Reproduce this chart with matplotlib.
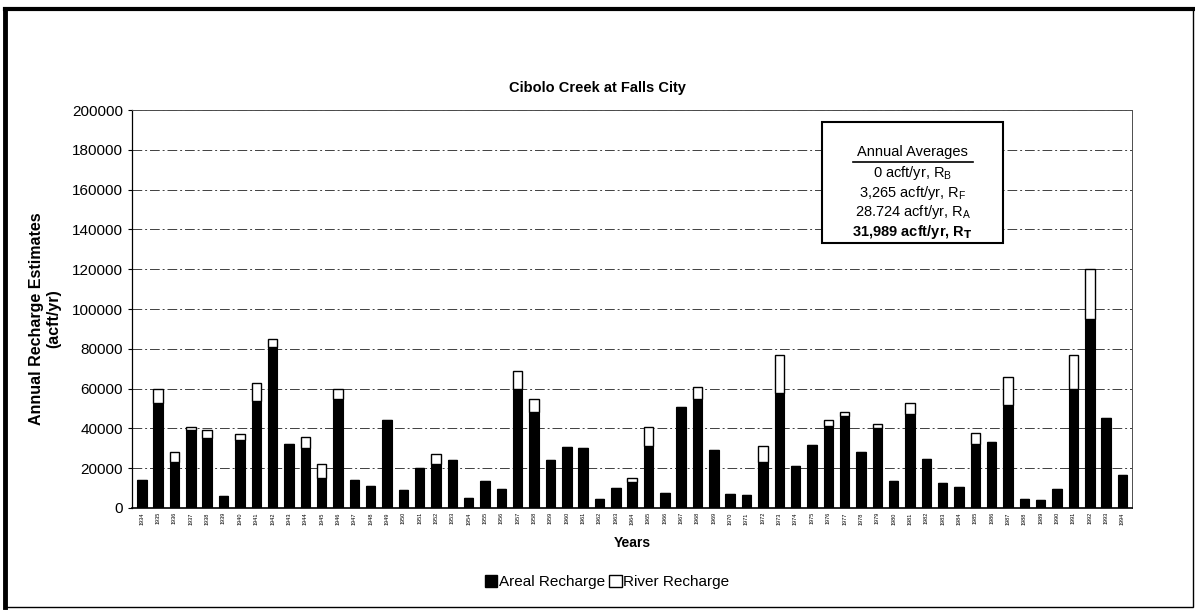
import matplotlib
matplotlib.use("Agg")
import matplotlib.pyplot as plt
import numpy as np
from matplotlib.patches import Rectangle, Patch
from matplotlib.lines import Line2D

plt.rcParams['font.family'] = ['Liberation Sans', 'DejaVu Sans']
plt.rcParams['mathtext.fontset'] = 'custom'
plt.rcParams['mathtext.rm'] = 'Liberation Sans'

# annual recharge (acft/yr)
years = list(range(1934, 1995))
areal = [14000, 53000, 23000, 39000, 35000, 6000, 34000, 54000, 81000, 32000,
         30000, 15000, 55000, 14000, 11000, 44000, 9000, 20000, 22000, 24000,
         5000, 13500, 9500, 60000, 48000, 24000, 30500, 30000, 4500, 10000,
         13000, 31000, 7500, 51000, 55000, 29000, 7000, 6500, 23000, 58000,
         21000, 31500, 41000, 46000, 28000, 40000, 13500, 47000, 24500, 12500,
         10500, 32000, 33000, 52000, 4500, 4000, 9500, 60000, 95000, 45000,
         16500]
river = [0, 7000, 5000, 1500, 4000, 0, 3000, 9000, 4000, 0,
         5500, 7000, 5000, 0, 0, 0, 0, 0, 5000, 0,
         0, 0, 0, 9000, 7000, 0, 0, 0, 0, 0,
         2000, 9500, 0, 0, 6000, 0, 0, 0, 8000, 19000,
         0, 0, 3000, 2000, 0, 2000, 0, 6000, 0, 0,
         0, 5500, 0, 14000, 0, 0, 0, 17000, 25000, 0,
         0]

avg_lines = [r"0 acft/yr, R$_\mathregular{B}$",
             r"3,265 acft/yr, R$_\mathregular{F}$",
             r"28.724 acft/yr, R$_\mathregular{A}$",
             r"31,989 acft/yr, R$_\mathbf{T}$"]

fig = plt.figure(figsize=(11.95, 6.12), dpi=100)
ax = fig.add_axes([0.1105, 0.170, 0.837, 0.650])

x = np.arange(len(years))
ax.bar(x, areal, width=0.58, color='black', edgecolor='black', linewidth=0.8, zorder=3)
ax.bar(x, river, width=0.58, bottom=areal, color='white', edgecolor='black',
       linewidth=1.0, zorder=3)

ax.set_ylim(0, 200000)
ax.set_xlim(-0.6, len(years) - 0.4)
ax.set_yticks(np.arange(0, 200001, 20000))
ax.tick_params(axis='y', labelsize=11, length=3)
ax.set_xticks(x)
ax.set_xticklabels([str(y) for y in years], rotation=90, fontsize=4)
ax.tick_params(axis='x', length=0, pad=3)
ax.yaxis.grid(True, color='0.25', linestyle=(0, (10, 3, 2, 3)), linewidth=0.7, zorder=0)

for side in ['top', 'right']:
    ax.spines[side].set_linestyle((0, (2, 1)))
    ax.spines[side].set_linewidth(0.7)
    ax.spines[side].set_color('0.3')
ax.spines['left'].set_linewidth(0.9)
ax.spines['bottom'].set_linewidth(1.2)

ax.set_xlabel("Years", fontsize=10, fontweight='bold', labelpad=8)
fig.text(0.038, 0.480, "Annual Recharge Estimates\n(acft/yr)", rotation=90,
         ha='center', va='center', fontsize=11.5, fontweight='bold', linespacing=1.2)
fig.text(0.5, 0.857, "Cibolo Creek at Falls City", ha='center', va='center',
         fontsize=10.5, fontweight='bold')

# annual averages box
bx0, bx1, by0, by1 = 0.690, 0.871, 0.667, 0.970
ax.add_patch(Rectangle((bx0, by0), bx1 - bx0, by1 - by0, transform=ax.transAxes,
                       facecolor='white', edgecolor='black', linewidth=1.5, zorder=5))
cx = (bx0 + bx1) / 2
ax.text(cx, 0.895, "Annual Averages", transform=ax.transAxes, ha='center', va='center',
        fontsize=10.5, zorder=6)
ax.add_line(Line2D([cx - 0.060, cx + 0.060], [0.870, 0.870], transform=ax.transAxes,
                   color='black', linewidth=1.2, zorder=6))
for i, line in enumerate(avg_lines):
    ax.text(cx, 0.843 - i * 0.050, line, transform=ax.transAxes, ha='center', va='center',
            fontsize=10.5, zorder=6, fontweight='bold' if i == 3 else 'normal')

handles = [Patch(facecolor='black', edgecolor='black', label='Areal Recharge'),
           Patch(facecolor='white', edgecolor='black', label='River Recharge')]
fig.legend(handles=handles, loc='center', bbox_to_anchor=(0.508, 0.049), ncol=2,
           frameon=False, fontsize=11, handlelength=0.8, handleheight=0.9,
           handletextpad=0.1, columnspacing=0.3)

# outer frame of the scanned page
fig.patches.append(Rectangle((0.004, 0.008), 0.994, 0.978, transform=fig.transFigure,
                             fill=False, edgecolor='black', linewidth=1.0))
fig.add_artist(Line2D([0.004, 0.004], [0.008, 0.986], transform=fig.transFigure,
                      color='black', linewidth=3.5))
fig.add_artist(Line2D([0.004, 0.998], [0.986, 0.986], transform=fig.transFigure,
                      color='black', linewidth=3.0))

fig.savefig("out.png", dpi=100)
